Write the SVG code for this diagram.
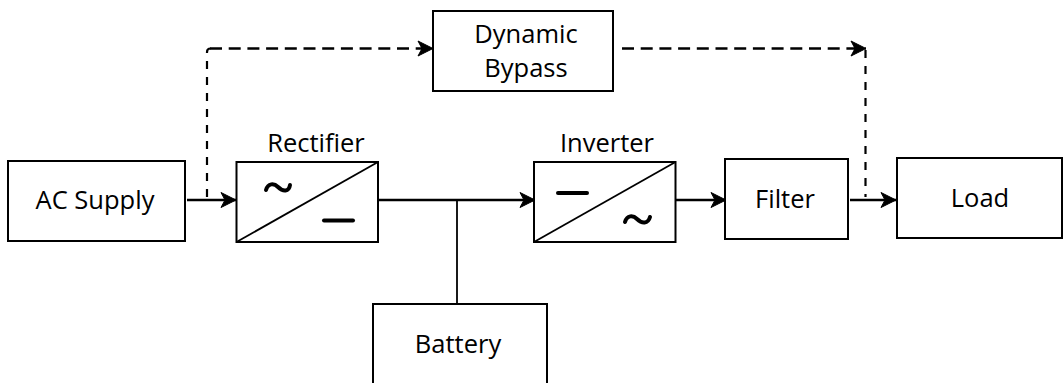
<svg xmlns="http://www.w3.org/2000/svg" width="1064" height="383" viewBox="0 0 1064 383">
<style>
.box{fill:#fff;stroke:#000;stroke-width:2}
.thin{fill:none;stroke:#000;stroke-width:1.8}
.sym{fill:none;stroke:#000;stroke-width:4;stroke-linecap:round}
.ln{fill:none;stroke:#000;stroke-width:2.5}
.dash{fill:none;stroke:#000;stroke-width:2.5;stroke-dasharray:12 6.700}
.dashv{fill:none;stroke:#000;stroke-width:2.2;stroke-dasharray:8 8}
text{font-family:"Open Sans","Noto Sans","Liberation Sans",sans-serif;font-size:25.500px;fill:#000;text-anchor:middle}
</style>
<defs>
<marker id="arr" markerUnits="userSpaceOnUse" markerWidth="18" markerHeight="20" refX="16" refY="10" orient="auto">
<path d="M1 2.500L16 10L1 17.500L5 10Z" fill="#000" stroke="#000" stroke-width="1" stroke-linejoin="round"/>
</marker>
</defs>
<g id="connectors">
<path class="ln" d="M187 200H236" marker-end="url(#arr)"/>
<path class="ln" d="M378 200H535" marker-end="url(#arr)"/>
<path class="ln" d="M676 200H726" marker-end="url(#arr)"/>
<path class="ln" d="M850 200H896" marker-end="url(#arr)"/>
<path class="thin" d="M457 200V304"/>
<path class="dash" d="M210 48.500H433" marker-end="url(#arr)"/>
<path class="dashv" d="M207 197V52Q207 48.500 210.500 48.500"/>
<path class="dash" d="M622 48.500H866" marker-end="url(#arr)"/>
<path class="dashv" d="M865.500 50V197"/>
</g>
<g id="ac-supply"><rect class="box" x="8" y="161" width="177" height="80"/><text x="95" y="209">AC Supply</text></g>
<g id="rectifier"><rect class="box" x="236.500" y="162" width="141.500" height="80"/><path class="thin" d="M236.500 242L378 162"/><path class="sym" d="M266 190C268 183 274 183 278 187C283 192 289 192 290 185"/><path class="sym" d="M324 220.500H353"/><text x="316" y="152">Rectifier</text></g>
<g id="inverter"><rect class="box" x="534" y="162" width="141.500" height="80"/><path class="thin" d="M534 242L675.500 162"/><path class="sym" d="M558 193H587"/><path class="sym" d="M625 222C627 215 633 215 637 219C642 224 648 224 650 217"/><text x="607" y="152">Inverter</text></g>
<g id="filter"><rect class="box" x="725" y="159" width="123" height="80"/><text x="785" y="208">Filter</text></g>
<g id="load"><rect class="box" x="897" y="158" width="165" height="80"/><text x="980" y="207">Load</text></g>
<g id="dynamic-bypass"><rect class="box" x="433" y="11" width="180" height="80"/><text x="526" y="43">Dynamic</text><text x="526" y="77">Bypass</text></g>
<g id="battery"><path class="box" d="M373 383V304H547V383"/><text x="458" y="353">Battery</text></g>
</svg>
